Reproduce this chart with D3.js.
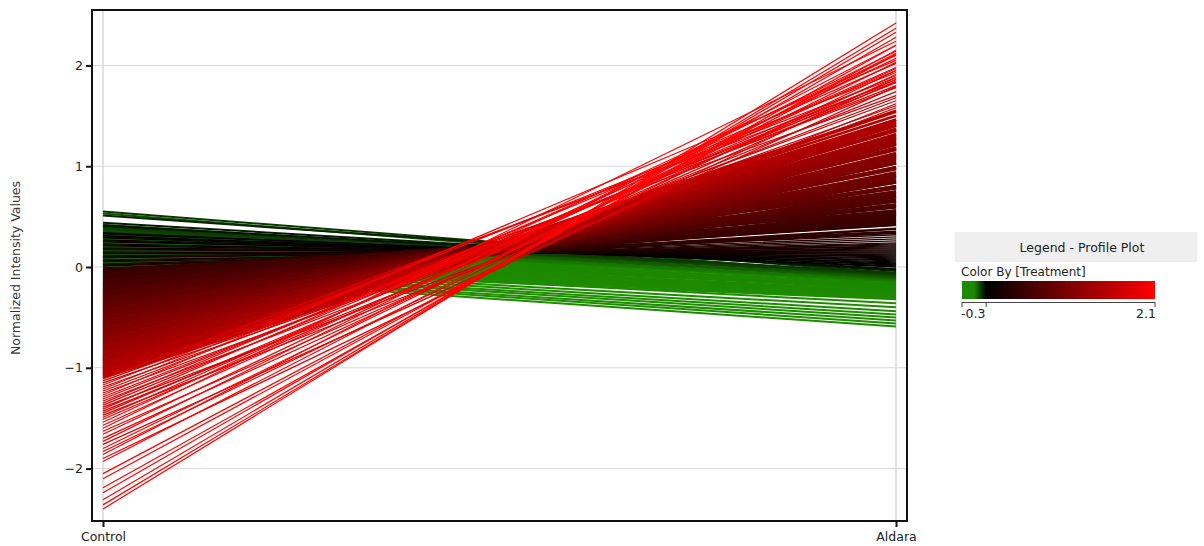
<!DOCTYPE html>
<html><head><meta charset="utf-8">
<script src="https://cdn.jsdelivr.net/npm/d3@7"></script>
<style>body{margin:0;background:#fff;} svg{display:block;font-family:"DejaVu Sans",sans-serif;}</style>
</head><body>
<svg id="c" width="1204" height="546"></svg>
<script>
const conditions = ["Control", "Aldara"];
// near-zero profiles (Aldara ~ 0)
const controlBlack = [0.34,0.33,0.31,0.30,0.29,0.27,0.26,0.25,0.23,0.22,0.21,0.19,0.18,0.17,0.15,0.14,0.13,0.11,0.10,0.09,0.07,0.06,0.05,0.03,0.02,0.01,-0.01,-0.02,-0.02,-0.03];
const aldaraBlack  = [0.00,0.02,0.01,0.04,0.03,0.06,0.05,0.08,0.07,0.10,0.09,0.12,0.11,0.14,0.13,0.16,0.15,0.18,0.17,0.20,0.19,0.22,0.21,0.24,0.23,0.26,0.28,0.30,0.32,0.34];
// down-regulated profiles (Aldara below zero)
const controlGreen = [0.55,0.53,0.51,0.44,0.42,0.41,
 0.40,0.39,0.38,0.37,0.36,0.35,0.34,0.33,0.32,0.31,
 0.30,0.29,0.28,0.27,0.26,0.25,0.24,0.23,0.22,0.21,
 0.20,0.19,0.18,0.17,0.16,0.15,0.14,0.13,0.12,0.11,
 0.10,0.09,0.08,0.07,0.06,0.05,0.04,0.03,0.02,0.01,
 0.06,0.04,0.03,0.01,0.00,-0.02,-0.03,-0.05];
const aldaraGreen = [-0.06,-0.09,-0.04,-0.03,-0.07,-0.02,
 -0.06,-0.09,-0.07,-0.11,-0.08,-0.12,-0.10,-0.14,-0.11,-0.15,
 -0.13,-0.16,-0.14,-0.18,-0.15,-0.19,-0.17,-0.20,-0.18,-0.21,
 -0.19,-0.22,-0.20,-0.24,-0.21,-0.25,-0.23,-0.26,-0.24,-0.27,
 -0.25,-0.28,-0.26,-0.29,-0.27,-0.30,-0.28,-0.31,-0.29,-0.32,
 -0.36,-0.40,-0.44,-0.47,-0.50,-0.53,-0.56,-0.59];
// up-regulated profiles, dense band
const controlRed = [-0.03,-0.04,-0.05,-0.06,-0.07,-0.08,-0.09,-0.10,-0.11,-0.12,
 -0.13,-0.14,-0.15,-0.16,-0.17,-0.18,-0.19,-0.20,-0.21,-0.22,
 -0.23,-0.24,-0.25,-0.26,-0.27,-0.28,-0.29,-0.30,-0.31,-0.32,
 -0.33,-0.34,-0.35,-0.36,-0.37,-0.38,-0.39,-0.40,-0.41,-0.42,
 -0.43,-0.44,-0.45,-0.46,-0.47,-0.48,-0.49,-0.50,-0.51,-0.52,
 -0.53,-0.54,-0.55,-0.56,-0.57,-0.58,-0.59,-0.60,-0.61,-0.62,
 -0.63,-0.64,-0.65,-0.66,-0.67,-0.68,-0.69,-0.70,-0.71,-0.72,
 -0.73,-0.74,-0.75,-0.76,-0.77,-0.78,-0.79,-0.80,-0.81,-0.82,
 -0.83,-0.84,-0.85,-0.86,-0.87,-0.88,-0.89,-0.90,-0.91,-0.92,
 -0.93,-0.94,-0.95,-0.96,-0.97,-0.98,-0.99,-1.00,-1.01,-1.02,
 -1.03,-1.04,-1.05,-1.06,-1.07,-1.08,-1.09,-1.10];
const aldaraRed = [0.44,0.35,0.42,0.34,0.51,0.42,0.48,0.38,0.50,0.43,
 0.56,0.47,0.52,0.46,0.61,0.52,0.60,0.47,0.59,0.54,
 0.65,0.53,0.70,0.62,0.67,0.56,0.69,0.62,0.75,0.66,
 0.71,0.65,0.80,0.71,0.79,0.66,0.78,0.73,0.84,0.72,
 0.89,0.80,0.86,0.75,0.87,0.80,0.93,0.85,0.90,0.84,
 0.99,0.90,0.98,0.85,0.97,0.92,1.03,0.91,1.08,0.99,
 1.05,0.94,1.06,0.99,1.12,1.03,1.08,1.03,1.18,1.09,
 1.17,1.04,1.16,1.11,1.22,1.10,1.27,1.18,1.24,1.13,
 1.25,1.18,1.31,1.22,1.27,1.21,1.36,1.28,1.36,1.23,
 1.35,1.30,1.41,1.29,1.46,1.37,1.43,1.32,1.44,1.37,
 1.50,1.41,1.46,1.40,1.55,1.46,1.54,1.42];
// up-regulated profiles, sparse strong ones
const controlHigh = [-1.49,-1.47,-1.45,-1.43,-1.41,-1.39,-1.37,-1.35,-1.33,-1.31,
 -1.29,-1.27,-1.25,-1.23,-1.21,-1.19,-1.17,-1.15,-1.13,-1.11,
 -1.93,-1.90,-1.86,-1.83,-1.80,-1.76,-1.73,-1.70,-1.66,-1.63,-1.60,-1.57,-1.54,-1.51,
 -2.40,-2.36,-2.31,-2.24,-2.19,-2.10,-2.05];
const aldaraHigh = [1.98,1.62,1.90,1.74,2.02,1.58,1.86,1.95,1.68,1.83,
 1.80,2.05,1.65,1.78,1.93,1.60,1.88,1.55,1.70,1.84,
 2.12,1.88,2.20,1.95,2.03,1.79,2.14,1.91,2.07,1.84,2.24,1.97,2.10,1.86,
 2.42,2.37,2.33,2.28,2.20,2.15,2.11];
const yTicks = [-2, -1, 0, 1, 2];
const legendTicks = [-0.3, 0, 2.1];
const legendLabels = ["-0.3", "", "2.1"];
const colorStops = [-0.3, -0.15, 0, 2.1];
const colorHues = ["#1e8c00", "#1b8800", "#000000", "#ff0000"];

const svg = d3.select("#c");
const L = 92, R = 907, T = 10, B = 521;
const x = d3.scalePoint().domain(conditions).range([103, 896]);
const y = d3.scaleLinear().domain([-2.52, 2.55]).range([B, T]);
const color = d3.scaleLinear().domain(colorStops).range(colorHues).clamp(true);

// grid
svg.append("g").selectAll("line").data(yTicks).join("line")
  .attr("x1", L).attr("x2", R).attr("y1", d => y(d)).attr("y2", d => y(d))
  .attr("stroke", "#d9d9d9").attr("stroke-width", 1);
svg.append("g").selectAll("line").data(conditions).join("line")
  .attr("x1", d => x(d)).attr("x2", d => x(d)).attr("y1", T).attr("y2", B)
  .attr("stroke", "#d9d9d9").attr("stroke-width", 1.5);

// profiles
const groups = [
  {c: controlGreen, a: aldaraGreen, w: 2},
  {c: controlBlack, a: aldaraBlack, w: 1.3},
  {c: controlRed, a: aldaraRed, w: 2.6},
  {c: controlHigh, a: aldaraHigh, w: 1.2}
];
svg.append("clipPath").attr("id", "clip").append("rect")
  .attr("x", L).attr("y", T).attr("width", R - L).attr("height", B - T);
const line = d3.line().x((d, i) => x(conditions[i])).y(d => y(d));
const plot = svg.append("g").attr("clip-path", "url(#clip)");
groups.forEach(g => {
  const prof = g.c.map((c, i) => [c, g.a[i]]).sort((p, q) => p[1] - q[1]);
  plot.append("g").selectAll("path").data(prof).join("path")
    .attr("d", d => line(d)).attr("fill", "none")
    .attr("stroke", d => color(d[1])).attr("stroke-width", g.w);
});

// frame
svg.append("rect").attr("x", L).attr("y", T).attr("width", R - L).attr("height", B - T)
  .attr("fill", "none").attr("stroke", "#111").attr("stroke-width", 2);

// axes
const ya = svg.append("g").attr("transform", `translate(${L - 1},0)`)
  .call(d3.axisLeft(y).tickValues(yTicks).tickSize(5).tickSizeOuter(0).tickFormat(d3.format("d")));
ya.select(".domain").remove();
ya.selectAll("line").attr("stroke", "#111").attr("stroke-width", 2);
ya.selectAll("text").attr("font-size", 12.5).attr("fill", "#222").attr("font-family", "DejaVu Sans");
const xa = svg.append("g").attr("transform", `translate(0,${B + 1})`)
  .call(d3.axisBottom(x).tickSize(5).tickSizeOuter(0));
xa.select(".domain").remove();
xa.selectAll("line").attr("stroke", "#111").attr("stroke-width", 2);
xa.selectAll("text").attr("font-size", 12.5).attr("fill", "#222").attr("font-family", "DejaVu Sans").attr("dy", "0.85em");

svg.append("text").attr("transform", "translate(20,268) rotate(-90)")
  .attr("text-anchor", "middle").attr("font-size", 12.5).attr("fill", "#333")
  .text("Normalized Intensity Values");

// legend
svg.append("rect").attr("x", 955).attr("y", 232).attr("width", 242).attr("height", 30).attr("fill", "#efefef");
svg.append("text").attr("x", 1082).attr("y", 251.5).attr("text-anchor", "middle")
  .attr("font-size", 12.5).attr("fill", "#222").text("Legend - Profile Plot");
svg.append("text").attr("x", 961).attr("y", 276).attr("font-size", 12).attr("fill", "#222").text("Color By [Treatment]");
const lx = d3.scaleLinear().domain([-0.3, 2.1]).range([962, 1155]);
const grad = svg.append("defs").append("linearGradient").attr("id", "lg")
  .attr("x1", "0%").attr("x2", "100%");
colorStops.forEach(v => grad.append("stop")
  .attr("offset", ((lx(v) - 962) / (1155 - 962) * 100) + "%").attr("stop-color", color(v)));
svg.append("rect").attr("x", 962).attr("y", 281).attr("width", 193).attr("height", 18).attr("fill", "url(#lg)");
svg.append("line").attr("x1", 962).attr("x2", 1155).attr("y1", 302.5).attr("y2", 302.5).attr("stroke", "#444");
svg.append("g").selectAll("line").data(legendTicks).join("line")
  .attr("x1", d => lx(d)).attr("x2", d => lx(d)).attr("y1", 302).attr("y2", 307).attr("stroke", "#444");
svg.append("g").selectAll("text").data(legendTicks).join("text")
  .attr("x", (d, i) => i === 0 ? 961 : 1156)
  .attr("text-anchor", (d, i) => i === 0 ? "start" : "end")
  .attr("y", 318).attr("font-size", 12.5).attr("fill", "#222")
  .text((d, i) => legendLabels[i]);
</script>
</body></html>
